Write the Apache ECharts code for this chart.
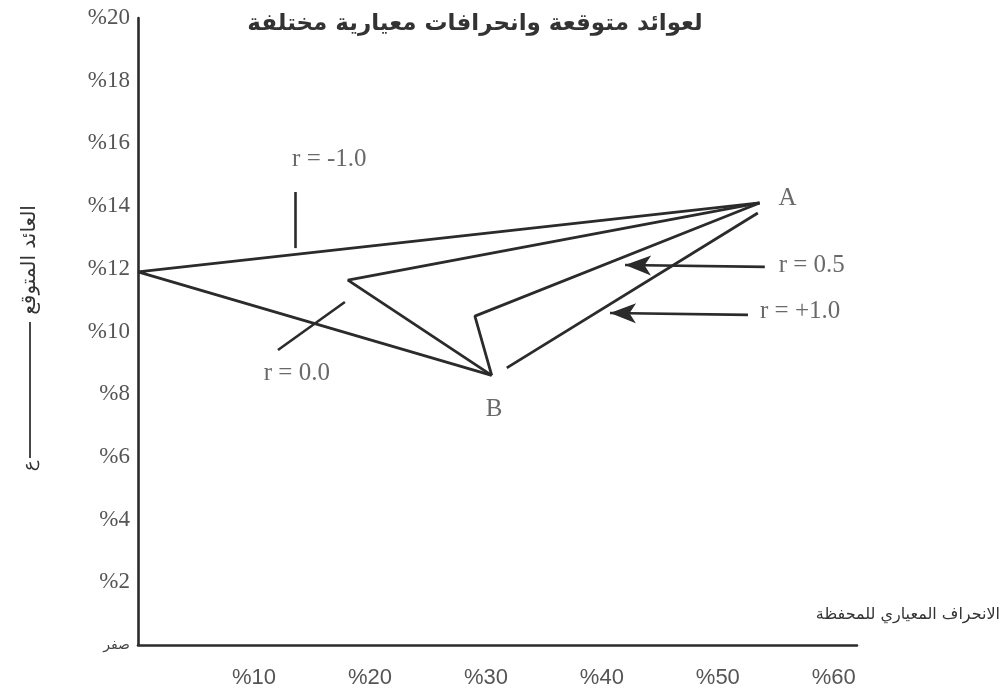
<!DOCTYPE html>
<html>
<head>
<meta charset="utf-8">
<script src="https://cdn.jsdelivr.net/npm/echarts@6/dist/echarts.min.js"></script>
<style>
  html, body { margin: 0; padding: 0; background: #fff; }
  #chart { width: 1005px; height: 695px; }
</style>
</head>
<body>
<div id="chart"></div>
<script>
// portfolio points (x = std dev %, y = expected return %)
const pointA = [53.6, 14.1];
const pointB = [30.5, 8.6];
const riskFree = [0, 11.9];

const lineMinus1 = [pointA, riskFree, pointB];
const lineZero = [pointA, [18.1, 11.64], pointB];
const lineHalf = [pointA, [29.05, 10.49], pointB];
const linePlus1 = [[53.45, 13.78], [31.8, 8.84]];

const xTicks = [10, 20, 30, 40, 50, 60];
const yTicks = [0, 2, 4, 6, 8, 10, 12, 14, 16, 18, 20];

// annotation texts and their anchor points
const notes = [
  { text: 'A', at: [56.0, 14.25] },
  { text: 'B', at: [30.7, 7.5] },
  { text: 'r = -1.0', at: [16.5, 15.5] },
  { text: 'r = 0.0', at: [13.7, 8.65] },
  { text: 'r = 0.5', at: [58.1, 12.1] },
  { text: 'r = +1.0', at: [57.1, 10.65] }
];
const pointerLines = [
  [[13.6, 14.45], [13.6, 12.66]],
  [[12.07, 9.41], [17.84, 10.94]]
];
const arrowLines = [
  [[54.05, 12.06], [42.0, 12.12]],
  [[52.6, 10.53], [40.7, 10.59]]
];

const lineColor = '#2b2b2b';
const serif = 'Liberation Serif';
const arabic = 'DejaVu Sans';

function curve(data) {
  return {
    type: 'line',
    data: data,
    symbol: 'none',
    silent: true,
    lineStyle: { color: lineColor, width: 2.8 }
  };
}

const chart = echarts.init(document.getElementById('chart'));

chart.setOption({
  animation: false,
  backgroundColor: '#fff',
  title: {
    text: 'لعوائد متوقعة وانحرافات معيارية مختلفة',
    left: 470,
    top: 8,
    textAlign: 'center',
    textStyle: { fontFamily: arabic, fontSize: 23, fontWeight: 'bold', color: '#333' }
  },
  grid: { left: 138, right: 148, top: 18, bottom: 50 },
  xAxis: {
    type: 'value',
    min: 0,
    max: 62,
    interval: 10,
    name: 'الانحراف المعياري للمحفظة',
    nameLocation: 'end',
    nameGap: 0,
    nameTextStyle: {
      fontFamily: arabic, fontSize: 16, color: '#333',
      align: 'right', verticalAlign: 'bottom',
      padding: [0, -143, 22, 0]
    },
    axisLine: { lineStyle: { color: lineColor, width: 2.6 } },
    axisTick: { show: false },
    splitLine: { show: false },
    axisLabel: {
      margin: 22,
      fontFamily: 'Liberation Sans',
      fontSize: 22,
      color: '#555',
      showMaxLabel: false,
      formatter: v => (xTicks.includes(v) ? '%' + v : '')
    }
  },
  yAxis: {
    type: 'value',
    min: 0,
    max: 20,
    interval: 2,
    axisLine: { show: true, lineStyle: { color: lineColor, width: 2.6 } },
    axisTick: { show: false },
    splitLine: { show: false },
    axisLabel: {
      margin: 8,
      fontFamily: serif,
      fontSize: 23,
      color: '#555',
      formatter: v => (v === 0 ? '{z|صفر}' : yTicks.includes(v) ? '%' + v : ''),
      rich: {
        z: { fontFamily: arabic, fontSize: 14, color: '#444' }
      }
    }
  },
  graphic: [
    {
      type: 'text',
      x: 30,
      y: 260,
      rotation: Math.PI / 2,
      style: {
        text: 'العائد المتوقع',
        font: '20px "DejaVu Sans"',
        fill: '#333',
        align: 'center',
        verticalAlign: 'middle'
      }
    },
    {
      type: 'line',
      shape: { x1: 30, y1: 322, x2: 30, y2: 458 },
      style: { stroke: '#333', lineWidth: 1.8 }
    },
    {
      type: 'text',
      x: 30,
      y: 466,
      rotation: Math.PI / 2,
      style: {
        text: 'ع',
        font: '18px "DejaVu Sans"',
        fill: '#333',
        align: 'center',
        verticalAlign: 'middle'
      }
    }
  ],
  series: [
    curve(lineMinus1),
    curve(lineZero),
    curve(lineHalf),
    curve(linePlus1),
    {
      type: 'line',
      data: [],
      silent: true,
      markLine: {
        silent: true,
        animation: false,
        label: { show: false },
        lineStyle: { color: lineColor, width: 2.6, type: 'solid' },
        data: pointerLines.map(p => [
          { coord: p[0], symbol: 'none' },
          { coord: p[1], symbol: 'none' }
        ]).concat(arrowLines.map(p => [
          { coord: p[0], symbol: 'none' },
          { coord: p[1], symbol: 'arrow', symbolSize: [15, 26] }
        ]))
      }
    },
    {
      type: 'scatter',
      silent: true,
      symbolSize: 0,
      data: notes.map(n => ({ value: n.at, name: n.text })),
      label: {
        show: true,
        position: 'inside',
        formatter: p => p.name,
        fontFamily: serif,
        fontSize: 25,
        color: '#444'
      }
    }
  ]
});
</script>
</body>
</html>
